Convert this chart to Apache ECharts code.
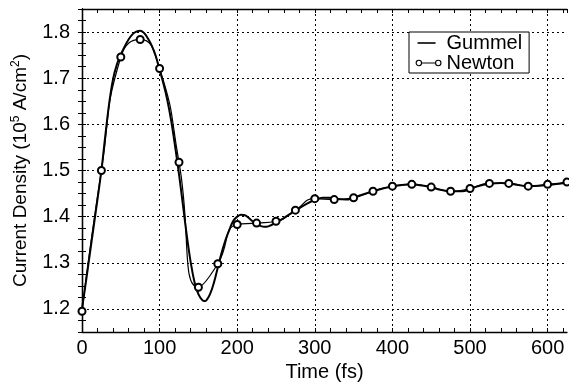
<!DOCTYPE html>
<html><head><meta charset="utf-8">
<script src="https://cdn.jsdelivr.net/npm/echarts@6/dist/echarts.min.js"></script>
<style>html,body{margin:0;padding:0;background:#fff}#c{width:569px;height:389px}</style>
</head><body><div id="c"></div>
<script>
const xTicks = [0, 100, 200, 300, 400, 500, 600];
const yTicks = [1.2, 1.3, 1.4, 1.5, 1.6, 1.7, 1.8];

const gummelTime = [0, 5, 10, 15, 20, 25, 30, 35, 40, 45, 50, 55, 60, 65, 70, 75, 80, 85, 90, 95,
  100, 105, 110, 115, 120, 125, 130, 135, 140, 145, 150, 155, 158, 160, 165, 170, 175, 180, 185, 190, 195,
  200, 205, 210, 215, 220, 225, 230, 235, 240, 250, 260, 275, 290, 300, 310, 320, 330, 340, 350, 360,
  375, 390, 400, 410, 425, 440, 450, 460, 475, 490, 500, 510, 525, 540, 550, 560, 575, 590, 600, 615, 625];
const gummelValue = [1.200, 1.258, 1.318, 1.378, 1.438, 1.500, 1.575, 1.645, 1.698, 1.730, 1.751, 1.769, 1.784, 1.795, 1.801, 1.803, 1.798, 1.786, 1.770, 1.748,
  1.718, 1.688, 1.652, 1.607, 1.552, 1.492, 1.426, 1.360, 1.302, 1.258, 1.232, 1.219, 1.217, 1.218, 1.232, 1.257, 1.290, 1.322, 1.350, 1.372, 1.391,
  1.400, 1.404, 1.403, 1.397, 1.390, 1.384, 1.380, 1.378, 1.379, 1.387, 1.397, 1.413, 1.428, 1.436, 1.441, 1.441, 1.438, 1.437, 1.441, 1.447,
  1.455, 1.462, 1.465, 1.468, 1.470, 1.467, 1.464, 1.459, 1.455, 1.455, 1.460, 1.466, 1.471, 1.473, 1.472, 1.469, 1.466, 1.467, 1.469, 1.471, 1.474];

const newtonTime = [0, 25, 50, 75, 100, 125, 150, 175, 200, 225, 250, 275, 300, 325, 350, 375, 400, 425, 450, 475, 500, 525, 550, 575, 600, 625];
const newtonValue = [1.195, 1.500, 1.746, 1.784, 1.721, 1.518, 1.247, 1.298, 1.383, 1.386, 1.390, 1.414, 1.439, 1.437, 1.441, 1.455, 1.466, 1.470, 1.464, 1.455, 1.461, 1.472, 1.472, 1.466, 1.470, 1.475];

const FONT = 'Liberation Sans, Arial, Helvetica, sans-serif';
const pair = (xs, ys) => xs.map((x, i) => [x, ys[i]]);
const T = 'rgba(0,0,0,0)';
const frameLine = { show: true, lineStyle: { color: '#000', width: 1.3 } };
const tick = { show: true, inside: true, length: 4, lineStyle: { color: '#000', width: 1 } };
const dotted = [2, 3];

const chart = echarts.init(document.getElementById('c'), null, { renderer: 'canvas' });
chart.setOption({
  animation: false,
  backgroundColor: '#fff',
  grid: { left: 82, right: 2, top: 9, bottom: 57, containLabel: false },
  legend: {
    orient: 'vertical', left: 409, top: 32,
    backgroundColor: '#fff', borderColor: '#000', borderWidth: 1, borderRadius: 0,
    padding: [1, 7, 0, 6], itemGap: 0, itemWidth: 26, itemHeight: 10, symbolKeepAspect: false,
    textStyle: { fontFamily: FONT, fontSize: 20, color: '#000', lineHeight: 17 },
    data: [
      { name: 'Gummel', icon: 'path://M0,0M26,10M2,4.2L20,4.2L20,5.8L2,5.8Z',
        itemStyle: { color: '#000', borderWidth: 0 } },
      { name: 'Newton', icon: 'path://M0,0M26,10M0.6,5A2.7,2.7,0,1,0,6,5A2.7,2.7,0,1,0,0.6,5ZM6,5L20,5M20,5A2.7,2.7,0,1,0,25.4,5A2.7,2.7,0,1,0,20,5Z',
        itemStyle: { color: '#fff', borderColor: '#000', borderWidth: 1.1 } }
    ]
  },
  xAxis: [{
    type: 'value', position: 'bottom', min: 0, max: 625, interval: 20,
    axisLine: frameLine, axisTick: tick,
    axisLabel: { color: '#000', fontFamily: FONT, fontSize: 20, margin: 6, showMaxLabel: false,
      formatter: v => xTicks.includes(v) ? String(v) : '' },
    splitLine: { show: true, lineStyle: { color: ['#000', T, T, T, T], type: dotted, width: 1 } },
    name: 'Time (fs)', nameLocation: 'middle', nameGap: 30,
    nameTextStyle: { color: '#000', fontFamily: FONT, fontSize: 20 }
  }, {
    type: 'value', position: 'top', min: 0, max: 625, interval: 20,
    axisLine: frameLine, axisTick: tick, axisLabel: { show: false }, splitLine: { show: false }
  }],
  yAxis: [{
    type: 'value', position: 'left', min: 1.15, max: 1.85, interval: 0.025,
    axisLine: frameLine, axisTick: tick,
    axisLabel: { color: '#000', fontFamily: FONT, fontSize: 20, margin: 12,
      formatter: v => yTicks.some(t => Math.abs(t - v) < 1e-6) ? v.toFixed(1) : '' },
    splitLine: { show: true, lineStyle: { color: [T, T, '#000', T], type: dotted, width: 1 } },
    name: '{a|Current Density (10}{s|5}{a| A/cm}{s|2}{a|)}',
    nameLocation: 'middle', nameGap: 50,
    nameTextStyle: { color: '#000', fontFamily: FONT,
      rich: { a: { fontFamily: FONT, fontSize: 19, color: '#000', lineHeight: 22 },
              s: { fontFamily: FONT, fontSize: 12, color: '#000', verticalAlign: 'top' } } }
  }, {
    type: 'value', position: 'right', min: 1.15, max: 1.85, interval: 0.025,
    axisLine: frameLine, axisTick: tick, axisLabel: { show: false }, splitLine: { show: false }
  }],
  series: [{
    name: 'Gummel', type: 'line', xAxisIndex: 0, yAxisIndex: 0,
    data: pair(gummelTime, gummelValue), smooth: 0.4, symbol: 'none',
    lineStyle: { color: '#000', width: 2 }, itemStyle: { color: '#000' }, z: 2
  }, {
    name: 'Newton', type: 'line', xAxisIndex: 0, yAxisIndex: 0,
    data: pair(newtonTime, newtonValue), smooth: 0.55, symbol: 'emptyCircle', symbolSize: 7,
    lineStyle: { color: '#000', width: 1.2 }, itemStyle: { color: '#000', borderWidth: 1.2 }, z: 3
  }]
});
</script></body></html>
